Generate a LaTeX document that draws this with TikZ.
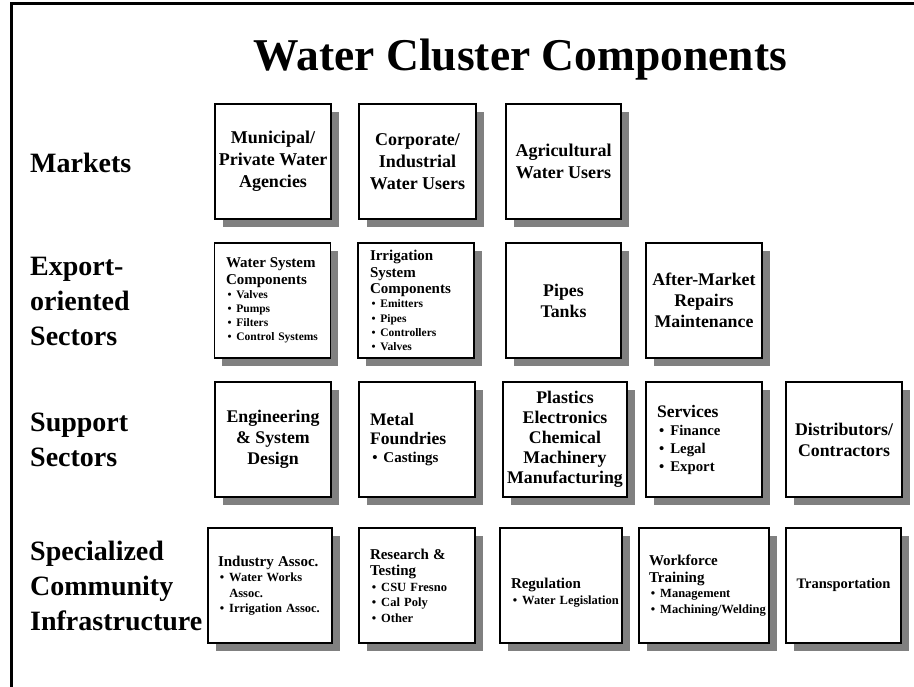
\documentclass[tikz,border=0pt]{standalone}
\usepackage{fontspec}
\setmainfont{Liberation Serif}
\newfontface\headface{Liberation Serif Bold}
\usepackage{tikz}
\usetikzlibrary{shadows, positioning}
\usepackage{xcolor}
\definecolor{shadowgray}{RGB}{128, 128, 128}

% no hyphenation inside the boxes
\hyphenpenalty=10000
\exhyphenpenalty=10000

% item with a bullet in front
\newcommand{\itm}[1]{\hspace*{0.15em}\makebox[0.75em][l]{\textbullet}\mbox{#1}}
\newcommand{\itmcont}[1]{\hspace*{0.9em}\mbox{#1}}
% headings inside the list boxes
\newcommand{\headS}[1]{{\headface\mdseries\fontsize{15}{16.5}\selectfont #1\par}}
\newcommand{\headL}[1]{{\headface\mdseries\fontsize{17.6}{19.5}\selectfont #1\par}}

\tikzset{
    cluster box/.style={
        rectangle,
        draw=black,
        line width=1.2pt,
        fill=white,
        minimum width=116pt,
        minimum height=115pt,
        inner sep=0pt,
        align=center,
        font=\bfseries\fontsize{17.8}{21}\selectfont,
        drop shadow={shadow xshift=7.5pt, shadow yshift=-8pt,
                     fill=shadowgray, opacity=1}
    },
    list box/.style={
        cluster box,
        inner xsep=11pt,
        align=left,
        font=\bfseries\fontsize{12.5}{15.5}\selectfont
    },
    row label/.style={
        anchor=west,
        inner sep=0pt,
        align=left,
        font=\bfseries\fontsize{28}{35}\selectfont
    }
}

\begin{document}
\begin{tikzpicture}[x=1pt, y=-1pt]

\useasboundingbox (0,0) rectangle (914,687);

% Frame
\draw[line width=3pt] (11,700) -- (11,4) -- (930,4);

% Title
\node[font=\bfseries\fontsize{45.5}{50}\selectfont, anchor=base, inner sep=0pt]
    (title) at (520.5,71) {Water Cluster Components};

% === ROW LABELS ===
\node[row label] (markets) at (30,162.5) {Markets};
\node[row label] (export) at (30,301) {Export-\\oriented\\Sectors};
\node[row label] (support) at (30,440) {Support\\Sectors};
\node[row label] (infra) at (30,586) {Specialized\\Community\\Infrastructure};

% === MARKETS ===
\node[cluster box, minimum width=116pt, font=\bfseries\fontsize{18}{22}\selectfont]
    (municipal) at (273,161.5) {Municipal/\\Private Water\\Agencies};
\node[cluster box, minimum width=117pt, font=\bfseries\fontsize{18}{22}\selectfont]
    (corporate) at (417.5,161.5) {Corporate/\\Industrial\\Water Users};
\node[cluster box, minimum width=115pt, font=\bfseries\fontsize{18}{22}\selectfont]
    (agri) at (563.5,161.5) {Agricultural\\Water Users};

% === EXPORT-ORIENTED SECTORS ===
\node[list box, text width=93pt, font=\bfseries\fontsize{11.5}{14.2}\selectfont]
    (watersys) at (272.5,300.5) {
    \headS{Water System\\Components}
    \itm{Valves}\\
    \itm{Pumps}\\
    \itm{Filters}\\
    \itm{Control Systems}
};
\node[list box, text width=92pt, font=\bfseries\fontsize{11.5}{14.2}\selectfont]
    (irrigsys) at (416,300.5) {
    \headS{Irrigation\\System\\Components}
    \itm{Emitters}\\
    \itm{Pipes}\\
    \itm{Controllers}\\
    \itm{Valves}
};
\node[cluster box, minimum width=115pt] (pipes) at (563.5,300.5) {Pipes\\Tanks};
\node[cluster box, minimum width=116pt] (aftermarket) at (704,300.5)
    {After-Market\\Repairs\\Maintenance};

% === SUPPORT SECTORS ===
\node[cluster box, minimum width=116pt] (engineering) at (273,439.5)
    {Engineering\\\& System\\Design};
\node[list box, text width=94pt, font=\bfseries\fontsize{15}{18}\selectfont]
    (metal) at (417,439.5) {
    \headL{Metal\\Foundries}
    \itm{Castings}
};
\node[cluster box, minimum width=124pt, font=\bfseries\fontsize{17.8}{20}\selectfont]
    (plastics) at (565,439.5)
    {Plastics\\Electronics\\Chemical\\Machinery\\Manufacturing};
\node[list box, text width=94pt, font=\bfseries\fontsize{14.8}{18}\selectfont]
    (services) at (704,439.5) {
    \headL{Services}
    \itm{Finance}\\
    \itm{Legal}\\
    \itm{Export}
};
\node[cluster box, minimum width=116pt] (distrib) at (844,439.5)
    {Distributors/\\Contractors};

% === SPECIALIZED COMMUNITY INFRASTRUCTURE ===
\node[list box, minimum width=124pt, inner xsep=10pt, text width=104pt]
    (industry) at (270,585.5) {
    \headS{Industry Assoc.}
    \itm{Water Works}\\
    \itmcont{Assoc.}\\
    \itm{Irrigation Assoc.}
};
\node[list box, text width=94pt] (research) at (417,585.5) {
    \headS{Research \&\\Testing}
    \itm{CSU Fresno}\\
    \itm{Cal Poly}\\
    \itm{Other}
};
\node[list box, minimum width=122pt, text width=100pt] (regulation) at (561,585.5) {
    \headS{\rule{0pt}{25pt}Regulation}
    \itm{Water Legislation}
};
\node[list box, minimum width=130pt, inner xsep=10pt, text width=110pt]
    (workforce) at (704,585.5) {
    \headS{Workforce\\Training}
    \itm{Management}\\
    \itm{Machining/Welding}
};
\node[cluster box, minimum width=115pt, font=\bfseries\fontsize{14.5}{17}\selectfont]
    (transport) at (843.5,585.5) {Transportation};

\end{tikzpicture}
\end{document}
